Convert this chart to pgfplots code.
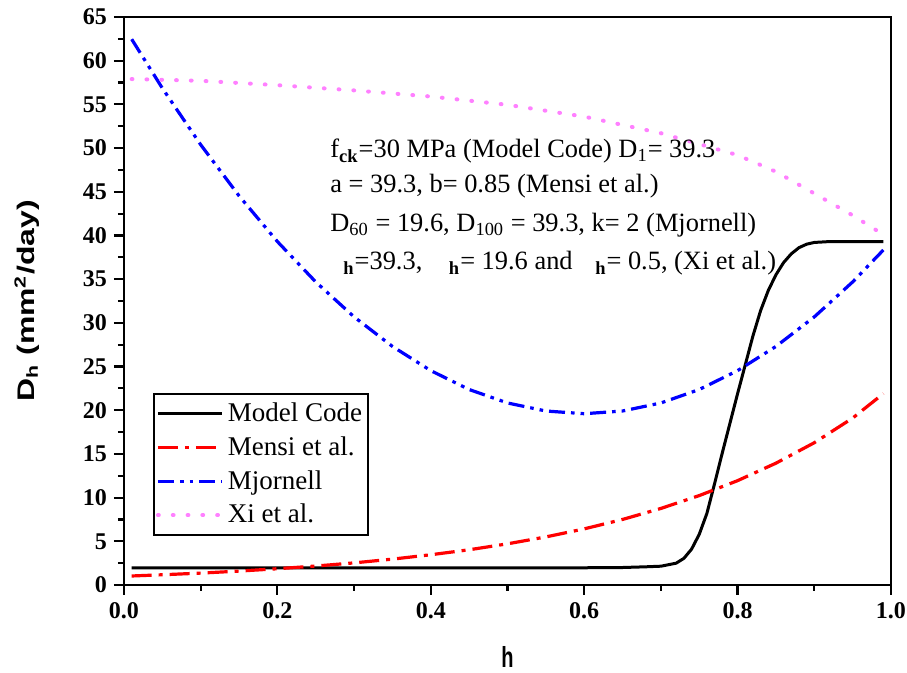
\documentclass[border=0pt]{standalone}
\usepackage{fontspec}
\setmainfont{Liberation Serif}
\newfontfamily\labelfont{Liberation Sans}
\usepackage{graphicx}
\usepackage{pgfplots}
\pgfplotsset{compat=1.18}
\definecolor{xipink}{RGB}{255,128,255}
\begin{document}
\begin{tikzpicture}
\path[use as bounding box] (-62pt,-44pt) rectangle (391.5pt,292.5pt);
\begin{axis}[
  at={(0,0)}, anchor=south west,
  scale only axis, width=383.5pt, height=284pt,
  xmin=0, xmax=1, ymin=0, ymax=65,
  xtick={0,0.2,0.4,0.6,0.8,1},
  ytick={0,5,10,15,20,25,30,35,40,45,50,55,60,65},
  minor x tick num=1, minor y tick num=1,
  tick align=outside, xtick pos=left, ytick pos=left,
  major tick length=5pt, minor tick length=3pt,
  every tick/.style={black, line width=1.1pt},
  axis line style={line width=1.25pt},
  /pgf/number format/assume math mode=true,
  tick label style={font=\fontsize{12}{14}\selectfont\bfseries},
  xticklabel style={/pgf/number format/.cd, fixed, fixed zerofill, precision=1},
  yticklabel style={/pgf/number format/.cd, fixed, precision=0},
  xlabel={\labelfont\bfseries\scalebox{1}[1.45]{h}},
  xlabel style={at={(axis description cs:0.5,-0.1268)}, anchor=center, font=\fontsize{10}{12}\selectfont},
  ylabel={\labelfont\bfseries\scalebox{1.33}[1]{D\textsubscript{h} (mm\textsuperscript{2}/day)}},
  ylabel style={at={(axis description cs:-0.1267,0.5)}, anchor=center, font=\fontsize{12}{14}\selectfont},
  legend image code/.code={\draw[#1] (0pt,0pt) -- (32pt,0pt);},
  legend style={at={(axis description cs:0.0378,0.338)}, anchor=north west,
    draw=black, line width=1pt, font=\fontsize{13.5}{15}\selectfont,
    inner xsep=1pt, inner ysep=2.5pt, row sep=2pt,
    cells={anchor=west}},
]
\addplot[black, line width=1.5pt] table {
x y
0.01 1.97
0.30 1.97
0.60 1.97
0.65 2.00
0.68 2.08
0.70 2.15
0.72 2.50
0.73 3.05
0.74 4.10
0.75 5.80
0.76 8.20
0.77 11.60
0.78 15.10
0.79 18.50
0.80 21.90
0.81 25.20
0.82 28.50
0.83 31.40
0.84 33.70
0.85 35.50
0.86 36.90
0.87 37.90
0.88 38.60
0.89 39.00
0.90 39.20
0.92 39.30
0.99 39.30
};
\addlegendentry{Model Code}
\addplot[red, line width=1.6pt, dash pattern=on 10pt off 3.5pt on 2pt off 3.5pt] table {
x y
0.01 1.03
0.05 1.17
0.10 1.36
0.15 1.59
0.20 1.86
0.25 2.17
0.30 2.53
0.35 2.96
0.40 3.46
0.45 4.03
0.50 4.71
0.55 5.50
0.60 6.42
0.65 7.50
0.70 8.76
0.75 10.23
0.80 11.94
0.85 13.94
0.90 16.28
0.95 19.10
0.99 21.90
};
\addlegendentry{Mensi et al.}
\addplot[blue, line width=1.6pt, dash pattern=on 8pt off 3pt on 1.8pt off 3pt on 1.8pt off 3pt] table {
x y
0.01 62.46
0.05 56.85
0.10 50.38
0.15 44.53
0.20 39.30
0.25 34.68
0.30 30.68
0.35 27.30
0.40 24.53
0.45 22.37
0.50 20.83
0.55 19.91
0.60 19.60
0.65 19.91
0.70 20.83
0.75 22.37
0.80 24.53
0.85 27.30
0.90 30.68
0.95 34.68
0.99 38.33
};
\addlegendentry{Mjornell}
\addplot[xipink, line width=2pt, line cap=round, dash pattern=on 0.4pt off 7pt] table {
x y
0.01 57.90
0.10 57.70
0.20 57.20
0.30 56.60
0.40 55.90
0.50 54.95
0.60 53.60
0.70 51.70
0.80 49.20
0.85 47.30
0.90 44.80
0.95 42.30
0.99 40.10
};
\addlegendentry{Xi et al.}
\node[anchor=base west, font=\fontsize{13.2}{15}\selectfont, inner sep=0pt] at (axis cs:0.2686,48.87)
  {f\textsubscript{\textbf{ck}}=30 MPa (Model Code) D\textsubscript{1}= 39.3};
\node[anchor=base west, font=\fontsize{13.2}{15}\selectfont, inner sep=0pt] at (axis cs:0.2686,44.86)
  {a = 39.3, b= 0.85 (Mensi et al.)};
\node[anchor=base west, font=\fontsize{13.2}{15}\selectfont, inner sep=0pt] at (axis cs:0.2686,40.40)
  {D\textsubscript{60} = 19.6, D\textsubscript{100} = 39.3, k= 2 (Mjornell)};
\node[anchor=base west, font=\fontsize{13.2}{15}\selectfont, inner sep=0pt] at (axis cs:0.2686,36.05)
  {\hspace{6.5pt}\textsubscript{\textbf{h}}=39.3, \hspace{10pt}\textsubscript{\textbf{h}}= 19.6 and \hspace{8pt}\textsubscript{\textbf{h}}= 0.5, (Xi et al.)};
\end{axis}
\end{tikzpicture}
\end{document}
